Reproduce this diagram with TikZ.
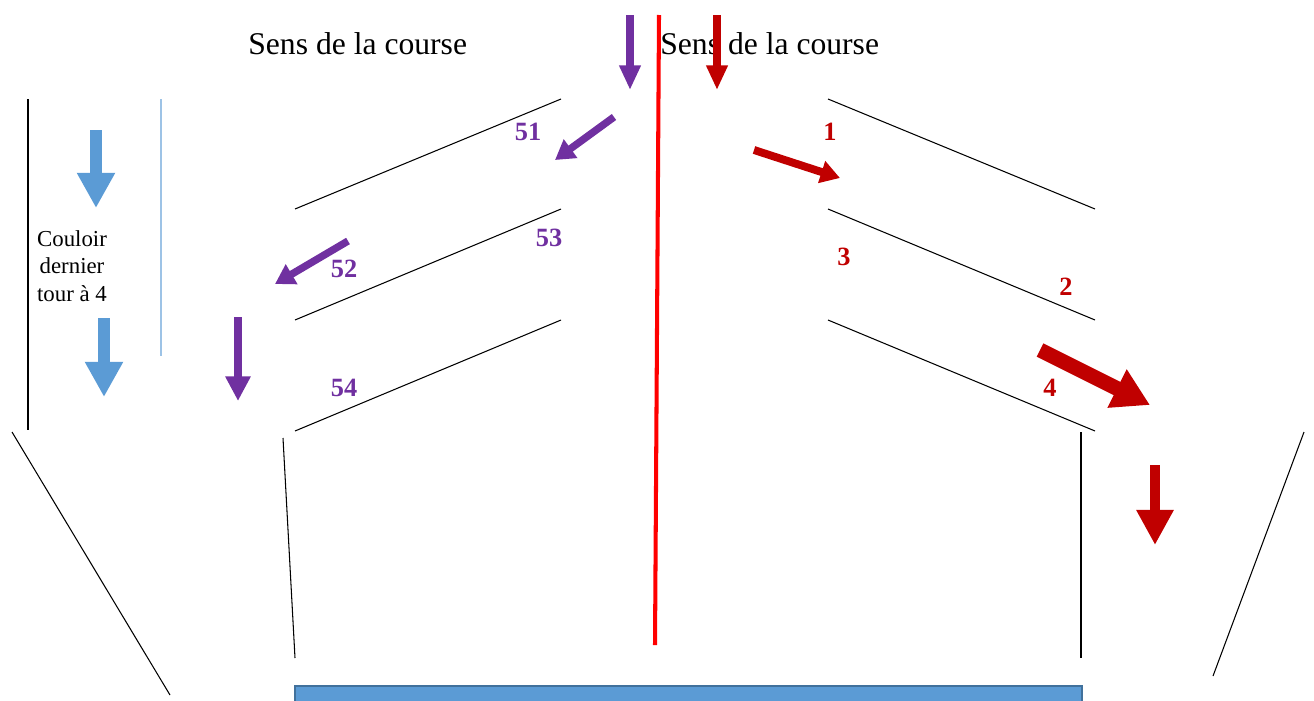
\documentclass[tikz,border=0pt]{standalone}
\usepackage{fontspec}
\setmainfont{Liberation Serif}
\usetikzlibrary{arrows.meta}

\definecolor{runred}{HTML}{C00000}
\definecolor{runpurple}{HTML}{7030A0}
\definecolor{runblue}{HTML}{5B9BD5}
\definecolor{paleblue}{HTML}{9DC3E6}
\definecolor{edgeblue}{HTML}{41719C}

\begin{document}
\begin{tikzpicture}[
    x=0.02cm, y=-0.02cm,
    lane/.style={black, line width=0.6pt},
    num/.style={font=\bfseries\fontsize{15}{18}\selectfont, inner sep=0pt},
    title/.style={font=\fontsize{18}{22}\selectfont, inner sep=0pt, anchor=base west},
    runarrow/.style args={#1/#2/#3}{line width=#1, -{Triangle[width=#2, length=#3]}}
]
\useasboundingbox (0,0) rectangle (1314,700);

% Titles
\node[title] (sensleft) at (248,54) {Sens de la course};
\node[title] (sensright) at (660,54) {Sens de la course};
\node[align=center, font=\fontsize{13}{15.6}\selectfont, inner sep=0pt] (couloir) at (72,266) {Couloir\\dernier\\tour à 4};

% Lanes
\draw[lane] (295,209) -- (561,99);
\draw[lane] (295,320) -- (561,209);
\draw[lane] (295,431) -- (561,320);
\draw[lane] (828,99) -- (1095,209);
\draw[lane] (828,209) -- (1095,320);
\draw[lane] (828,320) -- (1095,431);

\draw[black, line width=1.1pt] (28,99) -- (28,430);
\draw[paleblue, line width=0.9pt] (161,99) -- (161,356);

\draw[lane] (12,432) -- (170,695);
\draw[lane] (283,438) -- (295,658);
\draw[lane] (1081,432) -- (1081,658);
\draw[lane] (1304,432) -- (1213,676);

% Middle line
\draw[red, line width=2.3pt] (659,15) -- (655,645);

% Finish block
\draw[edgeblue, fill=runblue, line width=1.2pt] (295,686) rectangle (1082,710);

% Numbers
\node[num, runpurple] (n51) at (528,132) {51};
\node[num, runpurple] (n53) at (549,238) {53};
\node[num, runpurple] (n52) at (344,269) {52};
\node[num, runpurple] (n54) at (344,388) {54};
\node[num, runred] (n1) at (830,132) {1};
\node[num, runred] (n3) at (844,257) {3};
\node[num, runred] (n2) at (1066,287) {2};
\node[num, runred] (n4) at (1050,388) {4};

% Arrows
\draw[runpurple, runarrow=4.2pt/11.5pt/14pt] (630,15) -- (630,90);
\draw[runred, runarrow=4.2pt/11.5pt/14pt] (717,15) -- (717,90);
\draw[runpurple, runarrow=4.2pt/12.5pt/11pt] (614,117) -- (555,160);
\draw[runpurple, runarrow=4.2pt/12.5pt/11pt] (348,241) -- (275,284);
\draw[runpurple, runarrow=4.2pt/13.6pt/14pt] (238,317) -- (238,401);
\draw[runred, runarrow=4.5pt/12.5pt/11pt] (754,150) -- (840,178);
\draw[runred, runarrow=8.5pt/23pt/21pt] (1040,350) -- (1150,405);
\draw[runred, runarrow=5.7pt/20pt/20pt] (1155,465) -- (1155,545);
\draw[runblue, runarrow=6.8pt/20.4pt/20pt] (96,130) -- (96,208);
\draw[runblue, runarrow=6.8pt/20.4pt/20pt] (104,318) -- (104,397);

\end{tikzpicture}
\end{document}
